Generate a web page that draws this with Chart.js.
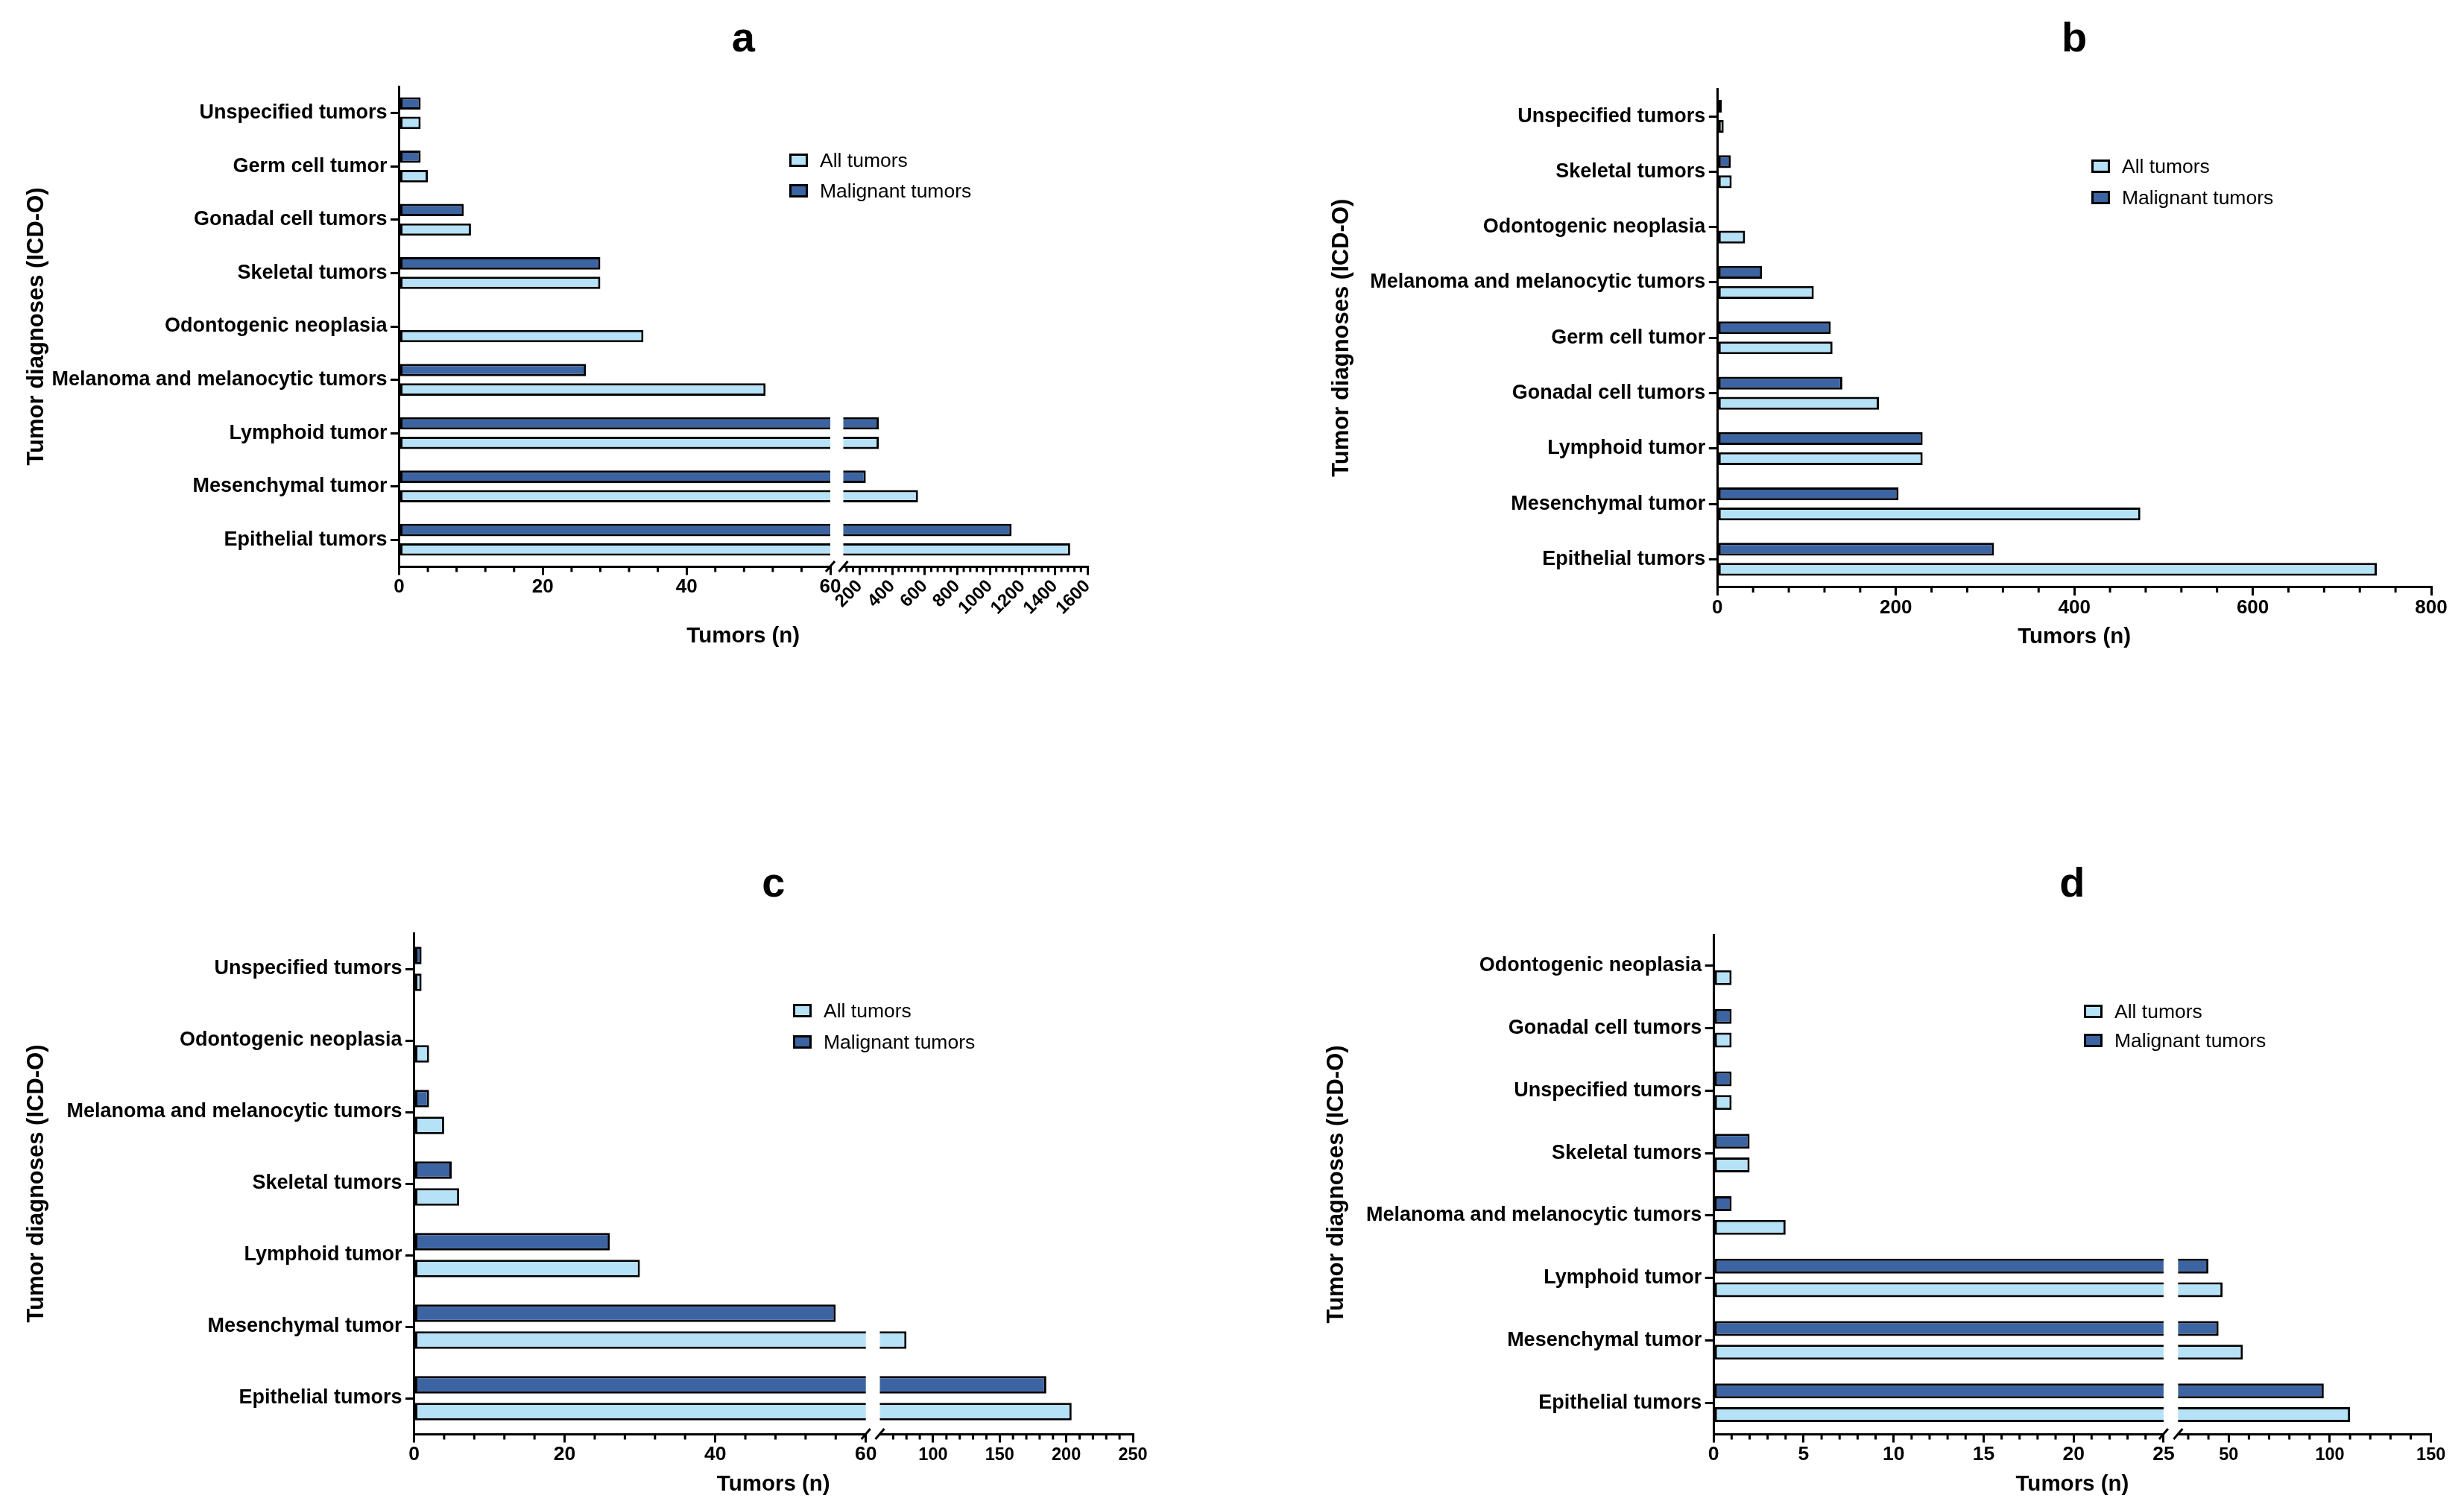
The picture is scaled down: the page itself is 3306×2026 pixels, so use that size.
<!DOCTYPE html>
<html lang="en">
<head>
<meta charset="utf-8">
<title>Tumor diagnoses (ICD-O)</title>
<script src="https://cdn.jsdelivr.net/npm/chart.js@4.4.1/dist/chart.umd.min.js"></script>
<style>
  html, body { margin: 0; padding: 0; background: #fff; }
  body { position: relative; width: 3306px; height: 2026px; overflow: hidden;
         font-family: "Liberation Sans", Arial, sans-serif; }
  canvas.panel { position: absolute; }
  .legend-row { position: absolute; height: 0; }
  .legend-box { position: absolute; left: 0; top: -9px; width: 19px; height: 12px; border: 3px solid #000; }
  .legend-text { position: absolute; left: 41px; top: 0; transform: translateY(-50%);
                 font-size: 26.5px; line-height: 1; white-space: nowrap; color: #000; }
</style>
</head>
<body>
<script>
// ---------- data ----------
const seriesNames = ['All tumors', 'Malignant tumors'];

// panel a
const aLabels = ['Unspecified tumors', 'Germ cell tumor', 'Gonadal cell tumors', 'Skeletal tumors',
  'Odontogenic neoplasia', 'Melanoma and melanocytic tumors', 'Lymphoid tumor', 'Mesenchymal tumor', 'Epithelial tumors'];
const aAll = [3, 4, 10, 28, 34, 51, 318, 559, 1494];
const aMal = [3, 3, 9, 28, 0, 26, 318, 238, 1134];
const aTicksLow = [0, 20, 40, 60];
const aTicksHigh = [200, 400, 600, 800, 1000, 1200, 1400, 1600];

// panel b
const bLabels = ['Unspecified tumors', 'Skeletal tumors', 'Odontogenic neoplasia', 'Melanoma and melanocytic tumors',
  'Germ cell tumor', 'Gonadal cell tumors', 'Lymphoid tumor', 'Mesenchymal tumor', 'Epithelial tumors'];
const bAll = [7, 16, 31, 108, 129, 181, 230, 474, 739];
const bMal = [5, 15, 0, 50, 127, 140, 230, 203, 310];
const bTicks = [0, 200, 400, 600, 800];

// panel c
const cLabels = ['Unspecified tumors', 'Odontogenic neoplasia', 'Melanoma and melanocytic tumors', 'Skeletal tumors',
  'Lymphoid tumor', 'Mesenchymal tumor', 'Epithelial tumors'];
const cAll = [1, 2, 4, 6, 30, 80, 204];
const cMal = [1, 0, 2, 5, 26, 56, 185];
const cTicksLow = [0, 20, 40, 60];
const cTicksHigh = [100, 150, 200, 250];

// panel d
const dLabels = ['Odontogenic neoplasia', 'Gonadal cell tumors', 'Unspecified tumors', 'Skeletal tumors',
  'Melanoma and melanocytic tumors', 'Lymphoid tumor', 'Mesenchymal tumor', 'Epithelial tumors'];
const dAll = [1, 1, 1, 2, 4, 47, 57, 110];
const dMal = [0, 1, 1, 2, 1, 40, 45, 97];
const dTicksLow = [0, 5, 10, 15, 20, 25];
const dTicksHigh = [50, 100, 150];

// ---------- styles ----------
const allColor = '#B6E2F7';
const malColor = '#3D64A2';
const PANEL_W = 1653, PANEL_H = 1013;
const Y_TITLE_SIZE = 31;
const X_TITLE_SIZE = 29.5;

Chart.defaults.font.family = '"Liberation Sans", Arial, Helvetica, sans-serif';
Chart.defaults.color = '#000';

// short minor ticks and the // marks of the axis break
function makeAxisMarks(minor, broken) {
  return {
    id: 'axisMarks',
    afterDraw(chart) {
      const ctx = chart.ctx;
      ctx.save();
      ctx.strokeStyle = '#000';
      ctx.lineWidth = 3;
      minor.forEach(m => {
        const s = chart.scales[m.id];
        const majors = s.ticks.map(t => t.value);
        const y0 = s.top + 1.5;
        ctx.beginPath();
        for (let v = Math.floor(s.min / m.step) * m.step + m.step; v < s.max; v += m.step) {
          if (majors.includes(v)) continue;
          const x = s.getPixelForValue(v);
          ctx.moveTo(x, y0);
          ctx.lineTo(x, y0 + 6);
        }
        ctx.stroke();
      });
      if (broken) {
        const lo = chart.scales.xl, hi = chart.scales.xr;
        const y = lo.top;
        [lo.right, hi.left].forEach(x => {
          ctx.beginPath();
          ctx.moveTo(x - 6, y + 7);
          ctx.lineTo(x + 6, y - 7);
          ctx.stroke();
        });
      }
      ctx.restore();
    }
  };
}

function valueAxis(seg, weight, axisH) {
  return {
    type: 'linear', axis: 'x', position: 'bottom', stack: 'x', stackWeight: weight,
    min: seg.min, max: seg.max, stacked: false, bounds: 'data',
    grid: { display: true, drawOnChartArea: false, tickLength: 11.5, lineWidth: 3, color: '#000' },
    border: { display: true, width: 3, color: '#000' },
    ticks: {
      font: { size: seg.font, weight: 'bold' }, color: '#000', padding: seg.pad,
      autoSkip: false, minRotation: seg.rot, maxRotation: seg.rot,
      callback: v => String(v)
    },
    afterBuildTicks: s => { s.ticks = seg.ticks.map(v => ({ value: v })); },
    afterFit: s => { s.height = axisH; }
  };
}

function buildPanel(p) {
  const canvas = document.createElement('canvas');
  canvas.className = 'panel';
  canvas.width = PANEL_W;
  canvas.height = PANEL_H;
  canvas.style.left = p.cx + 'px';
  canvas.style.top = p.cy + 'px';
  document.body.appendChild(canvas);

  const yLH = Y_TITLE_SIZE * 1.2, xLH = X_TITLE_SIZE * 1.2;
  const padLeft = p.yTitleX - yLH / 2 - p.cx;
  const yWidth = p.left - p.cx - padLeft;
  const padRight = p.cx + PANEL_W - p.right;
  const titleTop = p.letterMid - p.cy - 28;
  const titleBottom = p.top - p.cy - 56 - titleTop;
  const subTop = p.xTitleMid - xLH / 2 - (p.bottom + p.axisH);
  const padBottom = p.cy + PANEL_H - (p.bottom + p.axisH + subTop + xLH);

  const scales = {
    y: {
      type: 'category', position: 'left', offset: true,
      grid: { display: true, drawOnChartArea: false, offset: false, tickLength: 11.5, lineWidth: 3, color: '#000' },
      border: { display: true, width: 3, color: '#000' },
      ticks: { font: { size: 27, weight: 'bold' }, color: '#000', padding: 4.5, autoSkip: false },
      title: { display: true, text: 'Tumor diagnoses (ICD-O)', color: '#000',
               font: { size: Y_TITLE_SIZE, weight: 'bold', lineHeight: 1.2 }, padding: { top: 0, bottom: 0 } },
      afterFit: s => { s.width = yWidth; }
    }
  };

  const datasets = [];
  const minor = [];
  const bar = (label, data, axisId, stack, color) => ({
    label, data, xAxisID: axisId, yAxisID: 'y', stack,
    backgroundColor: color, borderColor: '#000', borderWidth: 3, borderSkipped: false,
    barPercentage: p.barPct, categoryPercentage: p.catPct, clip: 0
  });

  if (p.segs.length === 1) {
    const seg = p.segs[0];
    scales.x = valueAxis(seg, 1, p.axisH);
    delete scales.x.stack;
    minor.push({ id: 'x', step: seg.minor });
    datasets.push(bar(seriesNames[1], p.mal, 'x', 'mal', malColor));
    datasets.push(bar(seriesNames[0], p.all, 'x', 'all', allColor));
  } else {
    const [lo, hi] = p.segs;
    scales.xl = valueAxis(lo, p.weights[0], p.axisH);
    scales.xg = {
      type: 'linear', axis: 'x', position: 'bottom', stack: 'x', stackWeight: p.weights[1],
      min: 0, max: 1, grid: { display: false }, border: { display: false }, ticks: { display: false },
      afterFit: s => { s.height = p.axisH; }
    };
    scales.xr = valueAxis(hi, p.weights[2], p.axisH);
    minor.push({ id: 'xl', step: lo.minor }, { id: 'xr', step: hi.minor });
    datasets.push(bar(seriesNames[1], p.mal, 'xl', 'mal', malColor));
    datasets.push(bar(seriesNames[0], p.all, 'xl', 'all', allColor));
    datasets.push(bar(seriesNames[1], p.mal, 'xr', 'mal', malColor));
    datasets.push(bar(seriesNames[0], p.all, 'xr', 'all', allColor));
  }

  new Chart(canvas, {
    type: 'bar',
    data: { labels: p.labels, datasets },
    options: {
      indexAxis: 'y',
      responsive: false,
      maintainAspectRatio: false,
      devicePixelRatio: 1,
      animation: false,
      events: [],
      layout: { padding: { left: padLeft, right: padRight, top: 0, bottom: padBottom } },
      scales,
      plugins: {
        legend: { display: false },
        tooltip: { enabled: false },
        title: {
          display: true, text: p.letter, color: '#000', fullSize: false,
          font: { size: 56, weight: 'bold', lineHeight: 1 },
          padding: { top: titleTop, bottom: titleBottom }
        },
        subtitle: {
          display: true, position: 'bottom', text: 'Tumors (n)', color: '#000', fullSize: false,
          font: { size: X_TITLE_SIZE, weight: 'bold', lineHeight: 1.2 },
          padding: { top: subTop, bottom: 0 }
        }
      }
    },
    plugins: [makeAxisMarks(minor, p.segs.length > 1)]
  });

  // legend
  [[seriesNames[0], allColor, p.legend.y1], [seriesNames[1], malColor, p.legend.y2]].forEach(([name, color, y]) => {
    const row = document.createElement('div');
    row.className = 'legend-row';
    row.style.left = p.legend.x + 'px';
    row.style.top = y + 'px';
    row.innerHTML = `<div class="legend-box" style="background:${color}"></div><div class="legend-text">${name}</div>`;
    document.body.appendChild(row);
  });
}

// ---------- panels ----------
buildPanel({
  letter: 'a', labels: aLabels, all: aAll, mal: aMal,
  cx: 0, cy: 0, left: 535.5, right: 1459, top: 116, bottom: 760, axisH: 75,
  yTitleX: 49, letterMid: 53.6, xTitleMid: 853.5,
  barPct: 0.635, catPct: 0.73,
  weights: [578.5, 17.5, 327.5],
  segs: [
    { min: 0, max: 60, ticks: aTicksLow, minor: 4, font: 26, pad: 0.5, rot: 0 },
    { min: 100, max: 1600, ticks: aTicksHigh, minor: 40, font: 24, pad: 1, rot: 45 }
  ],
  legend: { x: 1059, y1: 215, y2: 256 }
});

buildPanel({
  letter: 'b', labels: bLabels, all: bAll, mal: bMal,
  cx: 1653, cy: 0, left: 2304.3, right: 3262, top: 119, bottom: 787.5, axisH: 45,
  yTitleX: 1800, letterMid: 53.6, xTitleMid: 855,
  barPct: 0.637, catPct: 0.727,
  segs: [
    { min: 0, max: 800, ticks: bTicks, minor: 40, font: 26, pad: 1.2, rot: 0 }
  ],
  legend: { x: 2806, y1: 223, y2: 265 }
});

buildPanel({
  letter: 'c', labels: cLabels, all: cAll, mal: cMal,
  cx: 0, cy: 1013, left: 555.5, right: 1520, top: 1252, bottom: 1924, axisH: 45,
  yTitleX: 49.5, letterMid: 1187.6, xTitleMid: 1992,
  barPct: 0.656, catPct: 0.75,
  weights: [606.2, 18.8, 339.5],
  segs: [
    { min: 0, max: 60, ticks: cTicksLow, minor: 4, font: 26.5, pad: 0.4, rot: 0 },
    { min: 60, max: 250, ticks: cTicksHigh, minor: 10, font: 23.5, pad: 3.3, rot: 0 }
  ],
  legend: { x: 1064, y1: 1356, y2: 1398 }
});

buildPanel({
  letter: 'd', labels: dLabels, all: dAll, mal: dMal,
  cx: 1653, cy: 1013, left: 2299.2, right: 3261.7, top: 1254, bottom: 1924, axisH: 45,
  yTitleX: 1793.5, letterMid: 1187.6, xTitleMid: 1992,
  barPct: 0.633, catPct: 0.755,
  weights: [603.7, 19.5, 339.3],
  segs: [
    { min: 0, max: 25, ticks: dTicksLow, minor: 1, font: 26.5, pad: 0.4, rot: 0 },
    { min: 25, max: 150, ticks: dTicksHigh, minor: 10, font: 23.5, pad: 3.3, rot: 0 }
  ],
  legend: { x: 2796, y1: 1357, y2: 1396 }
});
</script>
</body>
</html>
